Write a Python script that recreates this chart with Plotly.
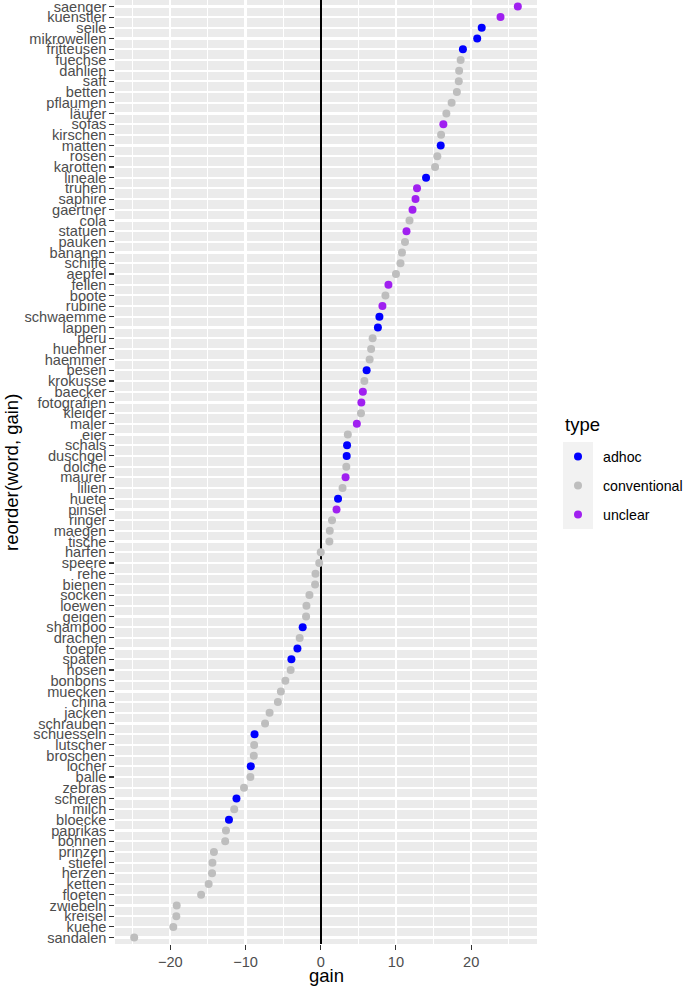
import plotly.graph_objects as go

# words from top (highest gain) to bottom (lowest gain)
words = ["saenger", "kuenstler", "seile", "mikrowellen", "fritteusen", "fuechse", "dahlien", "saft",
         "betten", "pflaumen", "läufer", "sofas", "kirschen", "matten", "rosen", "karotten", "lineale",
         "truhen", "saphire", "gaertner", "cola", "statuen", "pauken", "bananen", "schiffe", "aepfel",
         "fellen", "boote", "rubine", "schwaemme", "lappen", "peru", "huehner", "haemmer", "besen",
         "krokusse", "baecker", "fotografien", "kleider", "maler", "eier", "schals", "duschgel",
         "dolche", "maurer", "lilien", "huete", "pinsel", "ringer", "maegen", "tische", "harfen",
         "speere", "rehe", "bienen", "socken", "loewen", "geigen", "shampoo", "drachen", "toepfe",
         "spaten", "hosen", "bonbons", "muecken", "china", "jacken", "schrauben", "schuesseln",
         "lutscher", "broschen", "locher", "balle", "zebras", "scheren", "milch", "bloecke",
         "paprikas", "bohnen", "prinzen", "stiefel", "herzen", "ketten", "floeten", "zwiebeln",
         "kreisel", "kuehe", "sandalen"]

gain = [26.2, 23.9, 21.4, 20.8, 18.9, 18.6, 18.4, 18.35, 18.1, 17.4, 16.7, 16.3, 16.0, 15.95,
        15.5, 15.2, 14.0, 12.8, 12.6, 12.2, 11.8, 11.4, 11.2, 10.8, 10.6, 10.0, 9.0, 8.6, 8.2,
        7.8, 7.6, 6.9, 6.7, 6.5, 6.1, 5.8, 5.6, 5.4, 5.35, 4.8, 3.6, 3.5, 3.45, 3.4, 3.3, 2.9,
        2.3, 2.1, 1.5, 1.2, 1.15, 0.0, -0.2, -0.7, -0.75, -1.5, -1.9, -1.95, -2.4, -2.8, -3.1,
        -3.9, -4.0, -4.7, -5.3, -5.7, -6.8, -7.4, -8.8, -8.85, -8.9, -9.3, -9.35, -10.2, -11.2,
        -11.5, -12.2, -12.6, -12.7, -14.2, -14.4, -14.45, -14.9, -15.9, -19.15, -19.2, -19.6,
        -24.8]

word_type = ["unclear", "unclear", "adhoc", "adhoc", "adhoc", "conventional", "conventional",
             "conventional", "conventional", "conventional", "conventional", "unclear",
             "conventional", "adhoc", "conventional", "conventional", "adhoc", "unclear",
             "unclear", "unclear", "conventional", "unclear", "conventional", "conventional",
             "conventional", "conventional", "unclear", "conventional", "unclear", "adhoc",
             "adhoc", "conventional", "conventional", "conventional", "adhoc", "conventional",
             "unclear", "unclear", "conventional", "unclear", "conventional", "adhoc", "adhoc",
             "conventional", "unclear", "conventional", "adhoc", "unclear", "conventional",
             "conventional", "conventional", "conventional", "conventional", "conventional",
             "conventional", "conventional", "conventional", "conventional", "adhoc",
             "conventional", "adhoc", "adhoc", "conventional", "conventional", "conventional",
             "conventional", "conventional", "conventional", "adhoc", "conventional",
             "conventional", "adhoc", "conventional", "conventional", "adhoc", "conventional",
             "adhoc", "conventional", "conventional", "conventional", "conventional",
             "conventional", "conventional", "conventional", "conventional", "conventional",
             "conventional", "conventional"]

types = ["adhoc", "conventional", "unclear"]
type_colors = {"adhoc": "#0000FF", "conventional": "#BEBEBE", "unclear": "#A020F0"}

x_ticks = [-20, -10, 0, 10, 20]

FONT = "Liberation Sans, Arial, Helvetica, sans-serif"
W, H = 685, 988
ML, MB = 115, 44
PANEL_R = 537
plot_w = W - ML
plot_h = H - MB

fig = go.Figure()

for t in types:
    xs = [g for g, tt in zip(gain, word_type) if tt == t]
    ys = [w for w, tt in zip(words, word_type) if tt == t]
    fig.add_trace(go.Scatter(
        x=xs, y=ys, mode="markers", name=t, showlegend=False,
        marker=dict(color=type_colors[t], size=8, line=dict(width=0)),
        xaxis="x", yaxis="y"))

# manual legend (ggplot-like) on its own small axes
fig.add_trace(go.Scatter(
    x=[0] * len(types), y=types, mode="markers", showlegend=False, hoverinfo="skip",
    marker=dict(color=[type_colors[t] for t in types], size=8, line=dict(width=0)),
    xaxis="x2", yaxis="y2"))

ldx0 = (563 - ML) / plot_w
ldx1 = (593 - ML) / plot_w
ldy0 = (plot_h - 529) / plot_h
ldy1 = (plot_h - 442) / plot_h

fig.add_shape(type="rect", xref="x2 domain", yref="y2 domain", x0=0, x1=1, y0=0, y1=1,
              fillcolor="#F2F2F2", line=dict(width=0), layer="below")

fig.add_annotation(text="type", xref="paper", yref="paper",
                   x=(563 - ML) / plot_w, y=(plot_h - 425) / plot_h,
                   xanchor="left", yanchor="middle", showarrow=False,
                   font=dict(family=FONT, size=18.5, color="#000000"))
for t in types:
    fig.add_annotation(text=t, xref="paper", yref="y2", x=(601 - ML) / plot_w, y=t,
                       xanchor="left", yanchor="middle", showarrow=False,
                       font=dict(family=FONT, size=14.2, color="#000000"))

# axis titles
fig.add_annotation(text="gain", xref="x domain", yref="paper", x=0.5,
                   y=-(976 - plot_h) / plot_h, xanchor="center", yanchor="middle",
                   showarrow=False, font=dict(family=FONT, size=18.5, color="#000000"))
fig.add_annotation(text="reorder(word, gain)", xref="paper", yref="paper",
                   x=-(ML - 11) / plot_w, y=(plot_h - 473) / plot_h, textangle=-90,
                   xanchor="center", yanchor="middle", showarrow=False,
                   font=dict(family=FONT, size=18.5, color="#000000"))

cat_bottom_up = list(reversed(words))

fig.update_layout(
    width=W, height=H,
    margin=dict(l=ML, r=0, t=0, b=MB, pad=0),
    paper_bgcolor="#FFFFFF", plot_bgcolor="#EBEBEB",
    template="none",
    showlegend=False,
    font=dict(family=FONT, size=14.6, color="#4D4D4D"),
    xaxis=dict(
        domain=[0, (PANEL_R - ML) / plot_w],
        range=[-27.35, 28.75], tickmode="array", tickvals=x_ticks,
        ticktext=[("\u2212" + str(abs(v))) if v < 0 else str(v) for v in x_ticks],
        showgrid=True, gridcolor="#FFFFFF", gridwidth=2.2,
        minor=dict(dtick=5, tick0=0, showgrid=True, gridcolor="#FFFFFF", gridwidth=1.1, ticks=""),
        zeroline=True, zerolinecolor="#000000", zerolinewidth=2.4,
        ticks="outside", ticklen=4.7, tickwidth=1.07, tickcolor="#333333",
        tickfont=dict(family=FONT, size=14.6, color="#4D4D4D"),
        showline=False, automargin=False, fixedrange=True, anchor="y"),
    yaxis=dict(
        type="category", categoryorder="array", categoryarray=cat_bottom_up,
        range=[-0.6, len(words) - 0.4], tickmode="array", tickvals=cat_bottom_up,
        ticktext=cat_bottom_up,
        showgrid=True, gridcolor="#FFFFFF", gridwidth=2.2, zeroline=False,
        ticks="outside", ticklen=4.7, tickwidth=1.07, tickcolor="#333333",
        tickfont=dict(family=FONT, size=14.6, color="#4D4D4D"),
        showline=False, automargin=False, fixedrange=True, anchor="x"),
    xaxis2=dict(domain=[ldx0, ldx1], range=[-1, 1], visible=False, showgrid=False,
                zeroline=False, anchor="y2", fixedrange=True),
    yaxis2=dict(domain=[ldy0, ldy1], type="category", categoryorder="array",
                categoryarray=list(reversed(types)), range=[-0.5, len(types) - 0.5],
                visible=False, showgrid=False, zeroline=False, anchor="x2", fixedrange=True),
)

fig.write_html("out.html",
               config={"displayModeBar": False, "staticPlot": True},
               post_script="document.body.style.margin='0';document.body.style.overflow='hidden';")
